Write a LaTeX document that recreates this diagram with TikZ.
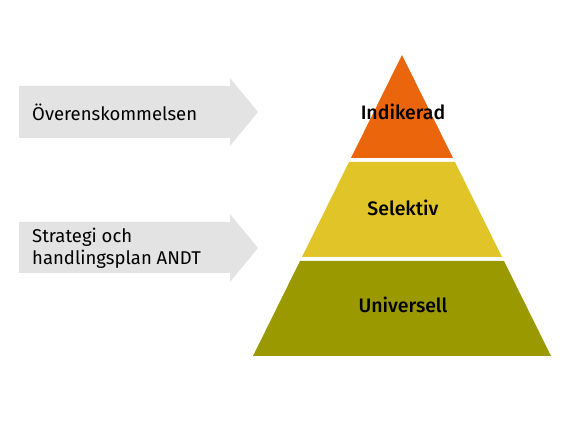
\documentclass[tikz,border=0pt]{standalone}
\usepackage{fontspec}
\setmainfont{Fira Sans}
\newfontfamily\mediumfont{Fira Sans Medium}
\usetikzlibrary{positioning}
\definecolor{pilgray}{RGB}{227,227,227}
\definecolor{toporange}{RGB}{234,101,12}
\definecolor{midyellow}{RGB}{224,196,40}
\definecolor{baseolive}{RGB}{154,154,0}
\tikzset{
  pil/.style={fill=pilgray, draw=none},
  pillabel/.style={
    anchor=west, align=left, text=black, inner sep=0pt,
    font=\fontsize{18.5}{22}\selectfont
  },
  tier/.style={draw=none},
  tierlabel/.style={
    text=black, inner sep=0pt,
    font=\mediumfont\fontsize{19.5}{22}\selectfont
  }
}

\begin{document}
\begin{tikzpicture}[x=1pt, y=-1pt]
  \useasboundingbox (0,0) rectangle (582,446);

  % pilar
  \fill[pil] (19,86) -- (230,86) -- (230,78) -- (258,112) -- (230,146) -- (230,138) -- (19,138) -- cycle;
  \fill[pil] (19,222) -- (230,222) -- (230,214) -- (258,248) -- (230,282) -- (230,273) -- (19,273) -- cycle;
  \node[pillabel] (overens) at (32,112) {Överenskommelsen};
  \node[pillabel] (andt) at (32,248) {Strategi och\\handlingsplan ANDT};

  % pyramid
  \fill[tier, toporange] (402,55) -- (453,158) -- (351,158) -- cycle;
  \fill[tier, midyellow] (349,162) -- (455,162) -- (502,257) -- (302,257) -- cycle;
  \fill[tier, baseolive] (300,261) -- (504,261) -- (551,356) -- (253,356) -- cycle;
  \node[tierlabel] (indikerad) at (403,112) {Indikerad};
  \node[tierlabel] (selektiv) at (403,208) {Selektiv};
  \node[tierlabel] (universell) at (403,305) {Universell};
\end{tikzpicture}
\end{document}
